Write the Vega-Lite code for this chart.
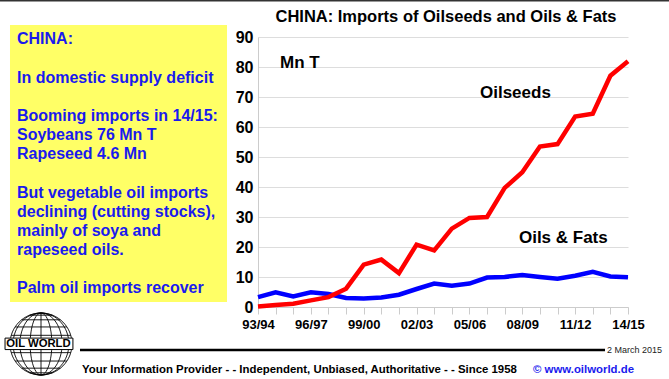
{
  "$schema": "https://vega.github.io/schema/vega-lite/v6.json",
  "width": 370,
  "height": 270,
  "autosize": "none",
  "padding": {"left": 258, "top": 37, "right": 41, "bottom": 72},
  "background": "white",
  "config": {
    "view": {"stroke": null},
    "font": "Liberation Sans"
  },
  "resolve": {"axis": {"x": "independent", "y": "independent"}},
  "layer": [
    {
      "data": {
        "values": [
          {"season": "93/94", "year": 1993, "series": "Oils & Fats", "value": 3.3},
          {"season": "94/95", "year": 1994, "series": "Oils & Fats", "value": 4.9},
          {"season": "95/96", "year": 1995, "series": "Oils & Fats", "value": 3.5},
          {"season": "96/97", "year": 1996, "series": "Oils & Fats", "value": 4.9},
          {"season": "97/98", "year": 1997, "series": "Oils & Fats", "value": 4.3},
          {"season": "98/99", "year": 1998, "series": "Oils & Fats", "value": 3.0},
          {"season": "99/00", "year": 1999, "series": "Oils & Fats", "value": 2.8},
          {"season": "00/01", "year": 2000, "series": "Oils & Fats", "value": 3.2},
          {"season": "01/02", "year": 2001, "series": "Oils & Fats", "value": 4.1},
          {"season": "02/03", "year": 2002, "series": "Oils & Fats", "value": 6.0},
          {"season": "03/04", "year": 2003, "series": "Oils & Fats", "value": 7.8},
          {"season": "04/05", "year": 2004, "series": "Oils & Fats", "value": 7.1},
          {"season": "05/06", "year": 2005, "series": "Oils & Fats", "value": 7.8},
          {"season": "06/07", "year": 2006, "series": "Oils & Fats", "value": 9.8},
          {"season": "07/08", "year": 2007, "series": "Oils & Fats", "value": 10.0},
          {"season": "08/09", "year": 2008, "series": "Oils & Fats", "value": 10.7},
          {"season": "09/10", "year": 2009, "series": "Oils & Fats", "value": 10.0},
          {"season": "10/11", "year": 2010, "series": "Oils & Fats", "value": 9.4},
          {"season": "11/12", "year": 2011, "series": "Oils & Fats", "value": 10.4},
          {"season": "12/13", "year": 2012, "series": "Oils & Fats", "value": 11.7},
          {"season": "13/14", "year": 2013, "series": "Oils & Fats", "value": 10.2},
          {"season": "14/15", "year": 2014, "series": "Oils & Fats", "value": 9.9},
          {"season": "93/94", "year": 1993, "series": "Oilseeds", "value": 0.2},
          {"season": "94/95", "year": 1994, "series": "Oilseeds", "value": 0.7},
          {"season": "95/96", "year": 1995, "series": "Oilseeds", "value": 1.1},
          {"season": "96/97", "year": 1996, "series": "Oilseeds", "value": 2.2},
          {"season": "97/98", "year": 1997, "series": "Oilseeds", "value": 3.3},
          {"season": "98/99", "year": 1998, "series": "Oilseeds", "value": 6.1},
          {"season": "99/00", "year": 1999, "series": "Oilseeds", "value": 14.1},
          {"season": "00/01", "year": 2000, "series": "Oilseeds", "value": 15.8},
          {"season": "01/02", "year": 2001, "series": "Oilseeds", "value": 11.3},
          {"season": "02/03", "year": 2002, "series": "Oilseeds", "value": 20.8},
          {"season": "03/04", "year": 2003, "series": "Oilseeds", "value": 18.9},
          {"season": "04/05", "year": 2004, "series": "Oilseeds", "value": 26.1},
          {"season": "05/06", "year": 2005, "series": "Oilseeds", "value": 29.7},
          {"season": "06/07", "year": 2006, "series": "Oilseeds", "value": 30.0},
          {"season": "07/08", "year": 2007, "series": "Oilseeds", "value": 39.7},
          {"season": "08/09", "year": 2008, "series": "Oilseeds", "value": 44.9},
          {"season": "09/10", "year": 2009, "series": "Oilseeds", "value": 53.5},
          {"season": "10/11", "year": 2010, "series": "Oilseeds", "value": 54.3},
          {"season": "11/12", "year": 2011, "series": "Oilseeds", "value": 63.5},
          {"season": "12/13", "year": 2012, "series": "Oilseeds", "value": 64.4},
          {"season": "13/14", "year": 2013, "series": "Oilseeds", "value": 77.1},
          {"season": "14/15", "year": 2014, "series": "Oilseeds", "value": 81.9}
        ]
      },
      "mark": {"type": "line", "strokeWidth": 4.5, "strokeJoin": "miter"},
      "encoding": {
        "x": {
          "field": "year",
          "type": "quantitative",
          "scale": {"domain": [1993, 2014], "nice": false, "zero": false},
          "axis": {
            "title": null,
            "values": [1993, 1994, 1995, 1996, 1997, 1998, 1999, 2000, 2001, 2002, 2003, 2004, 2005, 2006, 2007, 2008, 2009, 2010, 2011, 2012, 2013, 2014],
            "labelExpr": "datum.value % 3 == 1 ? slice(toString(datum.value), 2) + '/' + slice('0' + toString((datum.value + 1) % 100), -2) : ''",
            "labelOverlap": false,
            "labelFlush": false,
            "labelFont": "Liberation Sans",
            "labelFontSize": 13,
            "labelFontWeight": "bold",
            "labelColor": "#000000",
            "labelPadding": 4,
            "tickSize": 7,
            "tickColor": "#cccccc",
            "domainColor": "#cccccc",
            "grid": false
          }
        },
        "y": {
          "field": "value",
          "type": "quantitative",
          "scale": {"domain": [0, 90], "nice": false},
          "axis": {
            "title": null,
            "values": [0, 10, 20, 30, 40, 50, 60, 70, 80, 90],
            "labelOverlap": false,
            "labelFont": "Liberation Sans",
            "labelFontSize": 16,
            "labelFontWeight": "bold",
            "labelColor": "#000000",
            "labelPadding": 5,
            "ticks": false,
            "domainColor": "#cccccc",
            "grid": true,
            "gridColor": "#dddddd"
          }
        },
        "color": {
          "field": "series",
          "type": "nominal",
          "scale": {"domain": ["Oils & Fats", "Oilseeds"], "range": ["#0000ff", "#ff0000"]},
          "legend": null
        }
      }
    },
    {
      "data": {"values": [{}]},
      "mark": {"type": "rule", "stroke": "#333333", "strokeWidth": 1.6},
      "encoding": {
        "x": {"datum": 1978.357, "type": "quantitative", "scale": {"domain": [1993, 2014], "nice": false, "zero": false}, "axis": null},
        "x2": {"datum": 2016.327},
        "y": {"datum": 102.07, "type": "quantitative", "scale": {"domain": [0, 90], "nice": false}, "axis": null}
      }
    },
    {
      "data": {"values": [{}]},
      "mark": {"type": "rect", "fill": "#ffff66"},
      "encoding": {
        "x": {"datum": 1978.924, "type": "quantitative", "scale": {"domain": [1993, 2014], "nice": false, "zero": false}, "axis": null},
        "x2": {"datum": 1991.241},
        "y": {"datum": 94.0, "type": "quantitative", "scale": {"domain": [0, 90], "nice": false}, "axis": null},
        "y2": {"datum": 1.667}
      }
    },
    {
      "data": {"values": [{}]},
      "mark": {"type": "text", "text": "CHINA:", "align": "left", "baseline": "alphabetic", "font": "Liberation Sans", "fontSize": 16, "fontWeight": "bold", "color": "#1a1aee"},
      "encoding": {
        "x": {"datum": 1979.322, "type": "quantitative", "scale": {"domain": [1993, 2014], "nice": false, "zero": false}, "axis": null},
        "y": {"datum": 87.57, "type": "quantitative", "scale": {"domain": [0, 90], "nice": false}, "axis": null}
      }
    },
    {
      "data": {"values": [{}]},
      "mark": {"type": "text", "text": "In domestic supply deficit", "align": "left", "baseline": "alphabetic", "font": "Liberation Sans", "fontSize": 16, "fontWeight": "bold", "color": "#1a1aee"},
      "encoding": {
        "x": {"datum": 1979.322, "type": "quantitative", "scale": {"domain": [1993, 2014], "nice": false, "zero": false}, "axis": null},
        "y": {"datum": 74.8, "type": "quantitative", "scale": {"domain": [0, 90], "nice": false}, "axis": null}
      }
    },
    {
      "data": {"values": [{}]},
      "mark": {"type": "text", "text": ["Booming imports in 14/15:", "Soybeans 76 Mn T", "Rapeseed 4.6 Mn"], "lineHeight": 19.15, "align": "left", "baseline": "alphabetic", "font": "Liberation Sans", "fontSize": 16, "fontWeight": "bold", "color": "#1a1aee"},
      "encoding": {
        "x": {"datum": 1979.322, "type": "quantitative", "scale": {"domain": [1993, 2014], "nice": false, "zero": false}, "axis": null},
        "y": {"datum": 62.03, "type": "quantitative", "scale": {"domain": [0, 90], "nice": false}, "axis": null}
      }
    },
    {
      "data": {"values": [{}]},
      "mark": {"type": "text", "text": ["But vegetable oil imports", "declining (cutting stocks),", "mainly of soya and", "rapeseed oils."], "lineHeight": 19.15, "align": "left", "baseline": "alphabetic", "font": "Liberation Sans", "fontSize": 16, "fontWeight": "bold", "color": "#1a1aee"},
      "encoding": {
        "x": {"datum": 1979.322, "type": "quantitative", "scale": {"domain": [1993, 2014], "nice": false, "zero": false}, "axis": null},
        "y": {"datum": 36.5, "type": "quantitative", "scale": {"domain": [0, 90], "nice": false}, "axis": null}
      }
    },
    {
      "data": {"values": [{}]},
      "mark": {"type": "text", "text": "Palm oil imports recover", "align": "left", "baseline": "alphabetic", "font": "Liberation Sans", "fontSize": 16, "fontWeight": "bold", "color": "#1a1aee"},
      "encoding": {
        "x": {"datum": 1979.322, "type": "quantitative", "scale": {"domain": [1993, 2014], "nice": false, "zero": false}, "axis": null},
        "y": {"datum": 4.583, "type": "quantitative", "scale": {"domain": [0, 90], "nice": false}, "axis": null}
      }
    },
    {
      "data": {"values": [{}]},
      "mark": {"type": "text", "text": "CHINA: Imports of Oilseeds and Oils & Fats", "align": "center", "baseline": "alphabetic", "font": "Liberation Sans", "fontSize": 16.5, "fontWeight": "bold", "color": "#000000"},
      "encoding": {
        "x": {"datum": 2003.67, "type": "quantitative", "scale": {"domain": [1993, 2014], "nice": false, "zero": false}, "axis": null},
        "y": {"datum": 95.1, "type": "quantitative", "scale": {"domain": [0, 90], "nice": false}, "axis": null}
      }
    },
    {
      "data": {"values": [{}]},
      "mark": {"type": "text", "text": "Mn T", "align": "left", "baseline": "alphabetic", "font": "Liberation Sans", "fontSize": 17, "fontWeight": "bold", "color": "#000000"},
      "encoding": {
        "x": {"datum": 1994.249, "type": "quantitative", "scale": {"domain": [1993, 2014], "nice": false, "zero": false}, "axis": null},
        "y": {"datum": 79.57, "type": "quantitative", "scale": {"domain": [0, 90], "nice": false}, "axis": null}
      }
    },
    {
      "data": {"values": [{}]},
      "mark": {"type": "text", "text": "Oilseeds", "align": "left", "baseline": "alphabetic", "font": "Liberation Sans", "fontSize": 17, "fontWeight": "bold", "color": "#000000"},
      "encoding": {
        "x": {"datum": 2005.6, "type": "quantitative", "scale": {"domain": [1993, 2014], "nice": false, "zero": false}, "axis": null},
        "y": {"datum": 69.57, "type": "quantitative", "scale": {"domain": [0, 90], "nice": false}, "axis": null}
      }
    },
    {
      "data": {"values": [{}]},
      "mark": {"type": "text", "text": "Oils & Fats", "align": "left", "baseline": "alphabetic", "font": "Liberation Sans", "fontSize": 17, "fontWeight": "bold", "color": "#000000"},
      "encoding": {
        "x": {"datum": 2007.81, "type": "quantitative", "scale": {"domain": [1993, 2014], "nice": false, "zero": false}, "axis": null},
        "y": {"datum": 21.43, "type": "quantitative", "scale": {"domain": [0, 90], "nice": false}, "axis": null}
      }
    },
    {
      "data": {"values": [{}]},
      "mark": {"type": "rule", "stroke": "#000000", "strokeWidth": 2.5},
      "encoding": {
        "x": {"datum": 1982.897, "type": "quantitative", "scale": {"domain": [1993, 2014], "nice": false, "zero": false}, "axis": null},
        "x2": {"datum": 2012.695},
        "y": {"datum": -14.33, "type": "quantitative", "scale": {"domain": [0, 90], "nice": false}, "axis": null}
      }
    },
    {
      "data": {"values": [{}]},
      "mark": {
        "type": "point",
        "shape": "M-1,0A1,1 0 1,1 1,0A1,1 0 1,1 -1,0Z M0,-1A0.35,1 0 1,1 0,1A0.35,1 0 1,1 0,-1Z M0,-1A0.68,1 0 1,1 0,1A0.68,1 0 1,1 0,-1Z M0,-1A0.9,1 0 1,1 0,1A0.9,1 0 1,1 0,-1Z M0,-1L0,1 M-1,0L1,0 M-0.96,-0.28L0.96,-0.28 M-0.96,0.28L0.96,0.28 M-0.835,-0.55L0.835,-0.55 M-0.835,0.55L0.835,0.55 M-0.626,-0.78L0.626,-0.78 M-0.626,0.78L0.626,0.78 M-0.368,-0.93L0.368,-0.93 M-0.368,0.93L0.368,0.93",
        "size": 3844,
        "filled": false,
        "fill": "#ffffff",
        "stroke": "#000000",
        "strokeWidth": 0.9,
        "opacity": 1
      },
      "encoding": {
        "x": {"datum": 1980.684, "type": "quantitative", "scale": {"domain": [1993, 2014], "nice": false, "zero": false}, "axis": null},
        "y": {"datum": -12.33, "type": "quantitative", "scale": {"domain": [0, 90], "nice": false}, "axis": null}
      }
    },
    {
      "data": {"values": [{}]},
      "mark": {
        "type": "point",
        "shape": "M-1.16,-0.19L1.03,-0.19L1.03,0.18L-1.16,0.18Z",
        "size": 3844,
        "filled": false,
        "fill": "#ffffff",
        "stroke": "#000000",
        "strokeWidth": 1,
        "opacity": 1
      },
      "encoding": {
        "x": {"datum": 1980.684, "type": "quantitative", "scale": {"domain": [1993, 2014], "nice": false, "zero": false}, "axis": null},
        "y": {"datum": -12.33, "type": "quantitative", "scale": {"domain": [0, 90], "nice": false}, "axis": null}
      }
    },
    {
      "data": {"values": [{}]},
      "mark": {"type": "text", "text": "OIL WORLD", "align": "center", "baseline": "middle", "font": "Liberation Sans", "fontSize": 11.3, "fontWeight": "bold", "color": "#000000"},
      "encoding": {
        "x": {"datum": 1980.54, "type": "quantitative", "scale": {"domain": [1993, 2014], "nice": false, "zero": false}, "axis": null},
        "y": {"datum": -12.27, "type": "quantitative", "scale": {"domain": [0, 90], "nice": false}, "axis": null}
      }
    },
    {
      "data": {"values": [{}]},
      "mark": {"type": "text", "text": "2 March 2015", "align": "left", "baseline": "alphabetic", "font": "Liberation Sans", "fontSize": 9, "color": "#222222"},
      "encoding": {
        "x": {"datum": 2012.808, "type": "quantitative", "scale": {"domain": [1993, 2014], "nice": false, "zero": false}, "axis": null},
        "y": {"datum": -15.4, "type": "quantitative", "scale": {"domain": [0, 90], "nice": false}, "axis": null}
      }
    },
    {
      "data": {"values": [{}]},
      "mark": {"type": "text", "text": "Your Information Provider - - Independent, Unbiased, Authoritative - - Since 1958", "align": "left", "baseline": "alphabetic", "font": "Liberation Sans", "fontSize": 11.4, "fontWeight": "bold", "color": "#000000"},
      "encoding": {
        "x": {"datum": 1983.011, "type": "quantitative", "scale": {"domain": [1993, 2014], "nice": false, "zero": false}, "axis": null},
        "y": {"datum": -22.1, "type": "quantitative", "scale": {"domain": [0, 90], "nice": false}, "axis": null}
      }
    },
    {
      "data": {"values": [{}]},
      "mark": {"type": "text", "text": "© www.oilworld.de", "align": "left", "baseline": "alphabetic", "font": "Liberation Sans", "fontSize": 11.4, "fontWeight": "bold", "color": "#1a1aee"},
      "encoding": {
        "x": {"datum": 2008.608, "type": "quantitative", "scale": {"domain": [1993, 2014], "nice": false, "zero": false}, "axis": null},
        "y": {"datum": -22.1, "type": "quantitative", "scale": {"domain": [0, 90], "nice": false}, "axis": null}
      }
    }
  ]
}
